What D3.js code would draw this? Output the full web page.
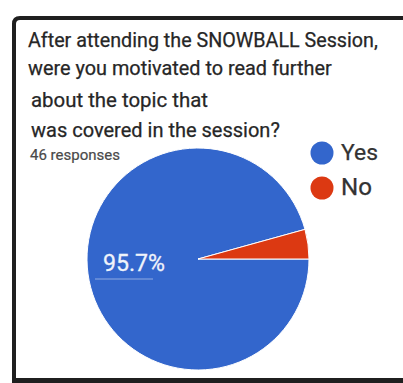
<!DOCTYPE html>
<html><head><meta charset="utf-8">
<script src="https://cdn.jsdelivr.net/npm/d3@7"></script>
<style>html,body{margin:0;padding:0;background:#fff;overflow:hidden}</style>
</head><body>
<script>
const titleLines = ["After attending the SNOWBALL Session,", "were you motivated to read further", "about the topic that", "was covered in the session?"];
const subtitle = "46 responses";
const categories = ["Yes", "No"];
const values = [95.7, 4.3];
const colors = ["#3366cc", "#dc3912"];

const W = 403, H = 383;
const FONT = "Roboto, 'Liberation Sans', Arial, sans-serif";
const svg = d3.select("body").append("svg").attr("width", W).attr("height", H);
svg.append("rect").attr("width", W).attr("height", H).attr("fill", "#fff");

function fit(el, w) {
  const fs = +el.attr("font-size");
  const len = el.node().getComputedTextLength();
  el.attr("font-size", fs * w / len);
  return el;
}

// frame
svg.append("path")
  .attr("d", "M14,383 L14,24 Q14,18 20,18 L410,18")
  .attr("fill", "none").attr("stroke", "#1f1f1f").attr("stroke-width", 4);
svg.append("line").attr("x1", 12).attr("x2", 410).attr("y1", 380.5).attr("y2", 380.5)
  .attr("stroke", "#1f1f1f").attr("stroke-width", 5);

// title
const tx = [28, 28, 31, 31], ty = [47, 75, 107, 137], tw = [350, 304, 177, 249];
titleLines.forEach((t, i) => {
  const el = svg.append("text").attr("x", tx[i]).attr("y", ty[i])
    .attr("font-family", FONT).attr("font-size", 17)
    .attr("fill", "#262626").attr("stroke", "#262626").attr("stroke-width", 0.25)
    .text(t);
  fit(el, tw[i]);
});
fit(svg.append("text").attr("x", 30).attr("y", 160)
  .attr("font-family", FONT).attr("font-size", 11)
  .attr("fill", "#4a4a4a").attr("stroke", "#4a4a4a").attr("stroke-width", 0.2)
  .text(subtitle), 90);

// pie
const cx = 198, cy = 259, r = 111;
const pie = d3.pie().sort(null).startAngle(Math.PI / 2).endAngle(Math.PI / 2 + 2 * Math.PI);
const arc = d3.arc().innerRadius(0).outerRadius(r);
const color = d3.scaleOrdinal().domain(categories).range(colors);
const g = svg.append("g").attr("transform", `translate(${cx},${cy})`);
const arcs = pie(values);
g.selectAll("path").data(arcs).join("path")
  .attr("d", arc).attr("fill", (d, i) => color(categories[i]))
  .attr("stroke", "#fff").attr("stroke-width", 1);

// label
const pct = d3.format(".1f");
fit(svg.append("text").attr("x", 103).attr("y", 271)
  .attr("font-family", FONT).attr("font-size", 15)
  .attr("fill", "#fff").attr("stroke", "#fff").attr("stroke-width", 0.3).attr("opacity", 0.92)
  .text(pct(values[0]) + "%"), 62);
svg.append("line").attr("x1", 95).attr("x2", 153).attr("y1", 279).attr("y2", 279)
  .attr("stroke", "#a9bde8").attr("stroke-width", 1).attr("opacity", 0.8);

// legend
const lg = svg.append("g");
const lw = [37, 31];
categories.forEach((c, i) => {
  const y = 153 + i * 35;
  lg.append("circle").attr("cx", 322).attr("cy", y).attr("r", 11.5).attr("fill", color(c));
  fit(lg.append("text").attr("x", 341).attr("y", y + 7)
    .attr("font-family", FONT).attr("font-size", 19)
    .attr("fill", "#333").attr("stroke", "#333").attr("stroke-width", 0.25).text(c), lw[i]);
});
</script>
</body></html>
